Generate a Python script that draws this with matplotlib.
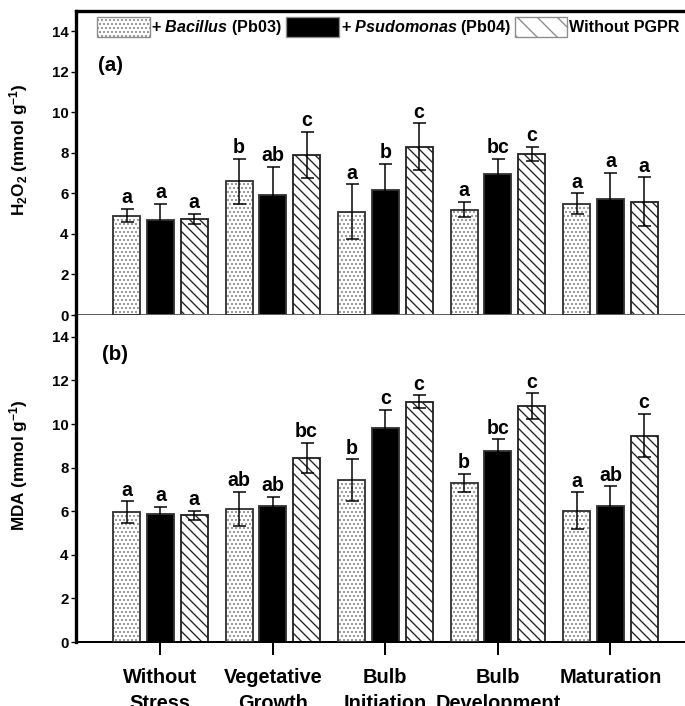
import matplotlib
matplotlib.use("Agg")
import matplotlib.pyplot as plt
from matplotlib.patches import Patch
import numpy as np

# data
stages = ["Without\nStress", "Vegetative\nGrowth", "Bulb\nInitiation",
          "Bulb\nDevelopment", "Maturation"]

h2o2_bacillus = [4.9, 6.6, 5.1, 5.2, 5.5]
h2o2_bacillus_err = [0.33, 1.1, 1.35, 0.38, 0.5]
h2o2_pseudo = [4.7, 5.9, 6.15, 6.95, 5.7]
h2o2_pseudo_err = [0.8, 1.4, 1.3, 0.77, 1.32]
h2o2_none = [4.75, 7.9, 8.3, 7.95, 5.6]
h2o2_none_err = [0.25, 1.15, 1.15, 0.35, 1.2]
h2o2_letters = [["a", "b", "a", "a", "a"],
                ["a", "ab", "b", "bc", "a"],
                ["a", "c", "c", "c", "a"]]

mda_bacillus = [5.95, 6.1, 7.43, 7.3, 6.02]
mda_bacillus_err = [0.5, 0.78, 0.95, 0.4, 0.84]
mda_pseudo = [5.87, 6.24, 9.8, 8.78, 6.22]
mda_pseudo_err = [0.32, 0.43, 0.84, 0.52, 0.92]
mda_none = [5.81, 8.43, 11.02, 10.82, 9.47]
mda_none_err = [0.22, 0.7, 0.3, 0.58, 1.0]
mda_letters = [["a", "ab", "b", "b", "a"],
               ["a", "ab", "c", "bc", "ab"],
               ["a", "bc", "c", "c", "c"]]

# style
plt.rcParams["font.family"] = "Liberation Sans"
plt.rcParams["font.weight"] = "bold"
plt.rcParams["mathtext.fontset"] = "custom"
plt.rcParams["mathtext.rm"] = "Liberation Sans:bold"
plt.rcParams["mathtext.bf"] = "Liberation Sans:bold"
plt.rcParams["mathtext.it"] = "Liberation Sans:italic:bold"
plt.rcParams["hatch.linewidth"] = 0.8

DPI = 120
fig = plt.figure(figsize=(685 / DPI, 706 / DPI), dpi=DPI)

left, width = 76 / 685, 618.75 / 685
ax_top = fig.add_axes([left, 1 - 315 / 706, width, 304 / 706])
ax_bot = fig.add_axes([left, 1 - 642 / 706, width, 327 / 706])

x = np.arange(len(stages))
offsets = [-0.3, 0.0, 0.3]
bw = 0.24


def draw_panel(ax, series, errors, letters):
    # series 0: dotted, series 1: black, series 2: diagonal lines
    for i, (vals, errs) in enumerate(zip(series, errors)):
        xs = x + offsets[i]
        if i == 0:
            ax.bar(xs, vals, bw, facecolor="white", edgecolor="#8c8c8c",
                   hatch=".....", linewidth=0, zorder=2)
            ax.bar(xs, vals, bw, fill=False, edgecolor="#333333",
                   linewidth=1.1, zorder=3)
        elif i == 1:
            ax.bar(xs, vals, bw, facecolor="black", edgecolor="#333333",
                   linewidth=1.1, zorder=2)
        else:
            ax.bar(xs, vals, bw, facecolor="white", edgecolor="#222222",
                   hatch="\\\\\\\\", linewidth=1.1, zorder=2)
        ax.errorbar(xs, vals, yerr=errs, fmt="none", ecolor="black",
                    elinewidth=0.9, capsize=3.9, capthick=0.9, zorder=4)
        for xi, v, e, lab in zip(xs, vals, errs, letters[i]):
            ax.annotate(lab, (xi, v + e), xytext=(0, 1),
                        textcoords="offset points", ha="center",
                        va="bottom", fontsize=11.8, fontweight="bold")

    ax.set_xlim(-0.75, 4.75)
    ax.set_ylim(0, 15)
    ax.set_yticks(np.arange(0, 15, 2))
    ax.tick_params(axis="y", direction="out", length=3, width=0.8,
                   labelsize=9, pad=1.5)
    ax.spines["right"].set_visible(False)
    ax.spines["left"].set_linewidth(2.0)
    ax.spines["left"].set_color("black")


draw_panel(ax_top, [h2o2_bacillus, h2o2_pseudo, h2o2_none],
           [h2o2_bacillus_err, h2o2_pseudo_err, h2o2_none_err], h2o2_letters)
draw_panel(ax_bot, [mda_bacillus, mda_pseudo, mda_none],
           [mda_bacillus_err, mda_pseudo_err, mda_none_err], mda_letters)

# top panel frame
ax_top.spines["top"].set_linewidth(2.0)
ax_top.spines["bottom"].set_color("#606060")
ax_top.spines["bottom"].set_linewidth(1.2)
ax_top.set_xticks([])

# bottom panel frame
ax_bot.spines["top"].set_visible(False)
ax_bot.spines["bottom"].set_linewidth(1.2)
ax_bot.set_xticks(x)
ax_bot.set_xticklabels(stages, fontsize=12, fontweight="bold")
for lbl in ax_bot.get_xticklabels():
    lbl.set_linespacing(1.45)
ax_bot.tick_params(axis="x", direction="out", length=7.8, width=1.2, pad=8)

# axis labels
ax_top.set_ylabel("H$_2$O$_2$ (mmol g$^{-1}$)", fontsize=10.3, fontweight="bold")
ax_top.yaxis.set_label_coords(-0.075, 0.543)
ax_bot.set_ylabel("MDA (mmol g$^{-1}$)", fontsize=10.3, fontweight="bold")
ax_bot.yaxis.set_label_coords(-0.075, 0.541)

# panel letters
ax_top.text(0.036, 0.803, "(a)", transform=ax_top.transAxes, fontsize=12.3,
            fontweight="bold", va="baseline")
ax_bot.text(0.042, 0.862, "(b)", transform=ax_bot.transAxes, fontsize=12.3,
            fontweight="bold", va="baseline")

# legend
handles = [
    Patch(facecolor="white", edgecolor="#8c8c8c", hatch=".....", linewidth=0.8),
    Patch(facecolor="black", edgecolor="#8c8c8c", linewidth=0.8),
    Patch(facecolor="white", edgecolor="#8c8c8c", hatch="\\\\", linewidth=0.8),
]
labels = ["+ $\\mathit{Bacillus}$ (Pb03)", "+ $\\mathit{Psudomonas}$ (Pb04)",
          "Without PGPR"]
fig.legend(handles, labels, loc="upper left", ncol=3, frameon=False,
           bbox_to_anchor=(97 / 685, 1 - 17 / 706),
           bbox_transform=fig.transFigure, borderpad=0, borderaxespad=0,
           handlelength=3.25, handleheight=1.5, handletextpad=0.12,
           columnspacing=0.25, prop={"size": 9.7, "weight": "bold"})

fig.savefig("out.png", dpi=DPI)
